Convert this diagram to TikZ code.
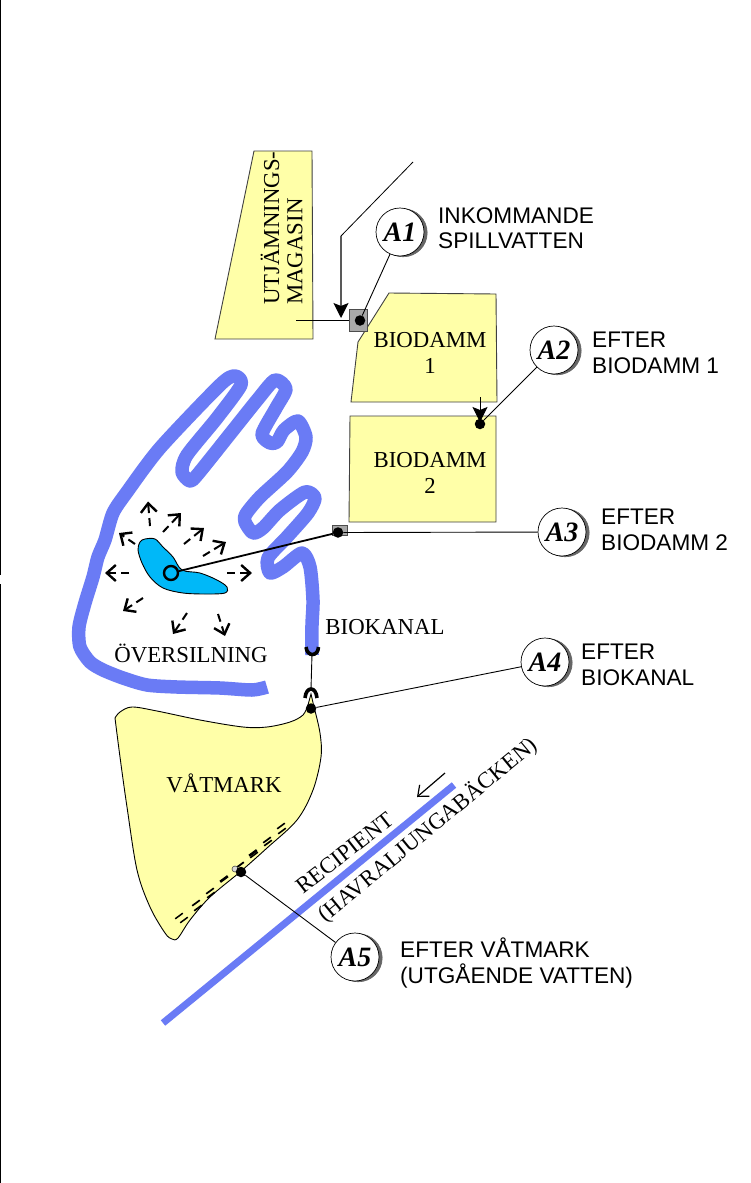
\documentclass[tikz,border=0pt]{standalone}
\usepackage{fontspec}
\setmainfont{Liberation Serif}
\newfontfamily\arialf{Liberation Sans}
\usetikzlibrary{arrows.meta}
\definecolor{pond}{HTML}{FFFFA8}
\definecolor{river}{HTML}{6A7BF5}
\definecolor{lake}{HTML}{00B8F8}
\definecolor{sq}{HTML}{A8A8A8}
\tikzset{
  pondshape/.style={draw=black!75,line width=0.9pt,fill=pond},
  serif/.style={font=\fontsize{22.8}{25.5}\selectfont,align=center,inner sep=0pt},
  sans/.style={font=\arialf\fontsize{22.6}{25.5}\selectfont,align=left,anchor=west,inner sep=0pt},
  badge/.style={circle,draw=black,line width=0.7pt,fill=white,minimum size=48pt,inner sep=0pt,
    font=\bfseries\itshape\fontsize{28}{28}\selectfont,
    preaction={draw=black!60,fill=black!60,line width=0.6pt,transform canvas={xshift=3.2pt,yshift=-0.8pt}}},
  sdot/.style={circle,fill=black,minimum size=10.5pt,inner sep=0pt},
  thin line/.style={draw=black,line width=0.9pt},
  water/.style={draw=river,line width=13.5pt,line join=round},
  sprinkle/.style={draw=black,line width=2pt,dash pattern=on 8pt off 5pt on 30pt,-{Straight Barb[length=9pt,width=16pt,line width=2.4pt]}},
  marsh/.style={draw=black},
  solidhead/.style={-{Stealth[length=15pt,width=15pt,inset=3pt,black]}},
  sqbox/.style={draw=black!70,line width=0.8pt,fill=sq,inner sep=0pt},
}
\begin{document}
\begin{tikzpicture}[x=1pt,y=-1pt]
\useasboundingbox (0,0) rectangle (750,1183);
\fill[white] (0,0) rectangle (750,1183);
% page edge
\coordinate (e1) at (0.6,0); \coordinate (e2) at (0.6,575);
\coordinate (e3) at (0.6,584); \coordinate (e4) at (0.6,1183);
\draw[black,line width=1.2pt] (e1)--(e2) (e3)--(e4);

% ponds
\draw[pondshape] (254,151)--(312,151)--(313,339)--(215,339)--cycle;
\draw[pondshape] (389,293)--(496,294)--(497,402)--(351,402)--(358,342)--cycle;
\draw[pondshape] (350,416)--(496,416)--(496,522)--(349,522)--cycle;

% wetland
\draw[draw=black,line width=0.9pt,fill=pond]
 plot[smooth,tension=0.55] coordinates {(115,718)(120,712)(132,707)(157,711)(200,720)(243,727)(267,727)(290,722)(303,715)(308,705)}
 -- (311,694) -- (314,707)
 -- plot[smooth,tension=0.55] coordinates {(314,707)(320,733)(321,757)(313,790)(297,820)(267,848)(240,872)(210,897)(190,920)(178,938)(172,939)(165,933)(150,907)(137,870)(127,807)(120,757)(115,718)} -- cycle;

% canal
\draw[water] plot[smooth,tension=0.45] coordinates {
 (267,687)(252,690)(220,688)(177,687)(147,685)(123,678)(103,670)(90,662)(80,647)(79,627)(85,603)(93,577)(98,557)(105,540)(113,513)(127,492)(160,448)(220,385)(235,376)(241,385)(217,418)(187,455)(182,472)(190,481)(198,474)(234,429)(258,399)(275,380)(286,389)(276,408)(262,434)(270,443)(277,442)(284,430)(298,421)(306,437)(302,452)(287,472)(260,497)(246,514)(245,522)(253,533)(263,528)(280,510)(305,492)(315,498)(308,513)(287,537)(268,558)(270,573)(283,567)(302,553)(310,567)(313,600)(312,625)(312,655)};

% recipient
\coordinate (r1) at (454,785); \coordinate (r2) at (163,1023);
\draw[draw=river,line width=7pt] (r1)--(r2);
\coordinate (fa) at (445,773); \coordinate (fb) at (417,797);
\draw[black,line width=1.2pt,-{Straight Barb[length=9pt,width=15pt,line width=1.2pt]}] (fa)--(fb);

% lake
\draw[draw=black,line width=0.9pt,fill=lake] plot[smooth cycle,tension=0.55] coordinates {
 (140,542)(145,539)(155,539)(163,547)(173,557)(182,570)(200,573)(217,580)(227,587)(225,593)(207,594)(183,593)(163,588)(150,577)(142,563)(138,550)};

% sprinkling arrows
\foreach \xa/\ya/\xb/\yb in {150/526/148/501.5, 163/532/181/513, 184/544/204/528, 203/556/226/542, 129/573/105/573, 227/573/252/573, 135/544/119/533, 143/598/123/611, 187/613/173/634, 218/614/225/636}
  \draw[sprinkle] (\xa,\ya)--(\xb,\yb);

% wetland dashes
\foreach \cx/\cy/\w in {179/916/1.5, 184/920/1.5, 196/903/1.7, 198/908/1.7, 210/891/1.7, 211/895/1.7, 224/879/2.6, 240/865/1.8, 253/853/2.6, 254/855/1.6, 267/840/1.7, 268/843/1.7, 281/826/1.6, 282/831/1.6}
  \draw[marsh,line width=\w pt] (\cx-3.8,\cy+2.8)--(\cx+3.8,\cy-2.8);

% square and dots
\node[sqbox,minimum width=18pt,minimum height=22pt] (s1) at (358,320) {};
\node[sqbox,minimum width=15pt,minimum height=10pt] (s3) at (339.5,530) {};
\node[sdot] (d1) at (360,320.5) {};
\node[sdot] (d2) at (480,424) {};
\node[sdot] (d3) at (338,532.5) {};
\node[sdot] (d4) at (311,708.5) {};
\node[circle,draw=black!70,fill=black!15,line width=0.6pt,minimum size=6pt,inner sep=0pt] (d5b) at (235,869) {};
\node[sdot] (d5) at (241,872) {};
\node[circle,draw=black,line width=2.4pt,minimum size=14pt,inner sep=0pt] (o) at (171,573) {};

% badges
\node[badge] (a1) at (400,232) {A1};
\node[badge] (a2) at (554,350) {A2};
\node[badge] (a3) at (562,532) {A3};
\node[badge] (a4) at (545,662) {A4};
\node[badge] (a5) at (355,957) {A5};

% connectors
\coordinate (in0) at (413,162); \coordinate (in1) at (341,236); \coordinate (in2) at (341,318);
\draw[black,line width=0.8pt] (in0)--(in1);
\draw[draw=black!65,line width=1.2pt,solidhead] (in1)--(in2);
\coordinate (m0) at (296,320);
\draw[thin line] (m0)--(s1.west);
\coordinate (b0) at (480,397); \coordinate (b1) at (480,422);
\draw[black,line width=0.9pt,solidhead] (b0)--(b1);
\draw[thin line] (a1)--(d1);
\draw[thin line] (a2)--(d2);
\draw[thin line] (a3)--(d3);
\draw[thin line] (a4)--(d4);
\draw[thin line] (a5)--(d5);
\draw[black,line width=1.8pt] (d3)--(o);
% canal end caps
\coordinate (u1) at (306,647); \coordinate (u2) at (318.5,647);
\coordinate (v1) at (305,698); \coordinate (v2) at (317,698);
\coordinate (um) at (312,654); \coordinate (vm) at (311,689);
\draw[black,line width=3.6pt] (u1) .. controls (307,657) and (318,657) .. (u2);
\draw[black,line width=3.6pt] (v1) .. controls (306,686) and (316,686) .. (v2);
\draw[thin line] (um)--(vm);

% texts
\node[serif,rotate=90,align=left,anchor=west] (t1) at (270,305) {UTJÄMNINGS-};
\node[serif,rotate=90,align=left,anchor=west] (t2) at (295,305) {MAGASIN};
\node[serif] (t3) at (430,353) {BIODAMM\\1};
\node[serif] (t4) at (430,473) {BIODAMM\\2};
\node[serif] (t5) at (191,653) {ÖVERSILNING};
\node[serif] (t6) at (385,627) {BIOKANAL};
\node[serif] (t7) at (224,783) {VÅTMARK};
\node[serif,rotate=38] (t8) at (345,853) {RECIPIENT};
\node[serif,rotate=39.5] (t9) at (428,830) {(HAVRALJUNGABÄCKEN)};
\node[sans] (l1) at (438,228) {INKOMMANDE\\SPILLVATTEN};
\node[sans] (l2) at (592,353) {EFTER\\BIODAMM 1};
\node[sans] (l3) at (601,530) {EFTER\\BIODAMM 2};
\node[sans] (l4) at (581,665) {EFTER\\BIOKANAL};
\node[sans] (l5) at (400,963) {EFTER VÅTMARK\\(UTGÅENDE VATTEN)};
\end{tikzpicture}
\end{document}
